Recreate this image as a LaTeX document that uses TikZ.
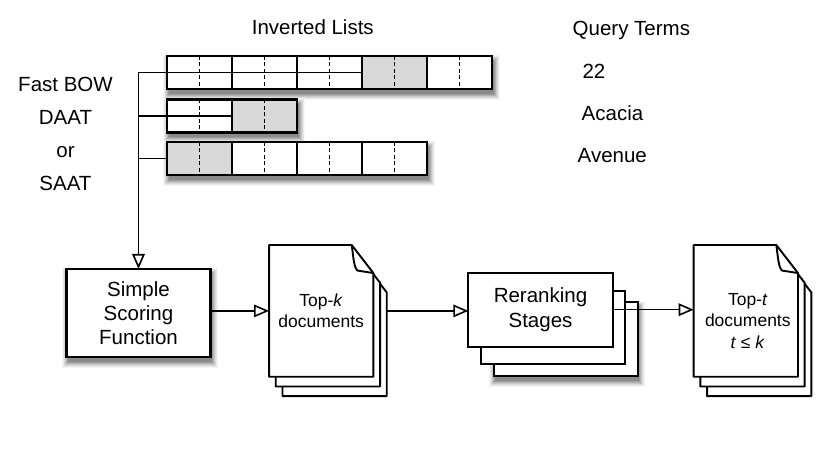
\documentclass[tikz,border=0pt]{standalone}
\usepackage{fontspec}
\setmainfont{Liberation Sans}
\usetikzlibrary{arrows.meta}
\pgfdeclarelayer{bg}
\pgfsetlayers{bg,main}
\definecolor{shA}{gray}{0.96}
\definecolor{shB}{gray}{0.91}
\definecolor{shC}{gray}{0.85}
\definecolor{shD}{gray}{0.78}
\definecolor{shE}{gray}{0.70}
\definecolor{shF}{gray}{0.62}
\definecolor{shG}{gray}{0.54}
\newcommand\boxshadow[4]{%
  \fill[shA] (#1-4.5,#2-1) rectangle (#3+7.5,#4+11);
  \fill[shB] (#1-3.5,#2) rectangle (#3+6.5,#4+10);
  \fill[shC] (#1-2.5,#2+1) rectangle (#3+5.5,#4+9);
  \fill[shD] (#1-1.5,#2+2) rectangle (#3+4.5,#4+8);
  \fill[shE] (#1-0.5,#2+3) rectangle (#3+3.5,#4+7);
  \fill[shF] (#1+0.5,#2+4) rectangle (#3+2.5,#4+6);
  \fill[shG] (#1+1.5,#2+5) rectangle (#3+1.5,#4+5);
}
\begin{document}
\begin{tikzpicture}[x=1pt,y=-1pt,
  every node/.style={inner sep=0pt, outer sep=0pt},
  lbl/.style={font=\fontsize{20.5}{24.5}\selectfont},
  doctxt/.style={font=\fontsize{17.5}{21.5}\selectfont, align=center},
  rowbox/.style={fill=white, minimum width=#1, minimum height=33pt, anchor=north west},
  blk/.style={draw, line width=2.1pt},
  grayblk/.style={blk, fill=black!15},
  dashln/.style={line width=1.8pt, dash pattern=on 4pt off 2.5pt},
  midln/.style={line width=1.7pt},
  conn/.style={line width=1.6pt},
  arr/.style={conn, -{Triangle[length=15pt, width=12.5pt, fill=white]}},
  box/.style={draw, line width=2.1pt, fill=white, align=center,
              font=\fontsize{20.5}{24.3}\selectfont},
  pg/.style={minimum width=104.3pt, minimum height=131.7pt},
  pageln/.style={draw, fill=white, line width=1.9pt, line join=round}
]
\path[use as bounding box] (0,0) rectangle (830,462);

% ---------- headings ----------
\node[lbl, anchor=base] (il) at (312.8,35) {Inverted Lists};
\node[lbl, anchor=base west] (qt) at (572.7,36) {Query Terms};
\node[lbl, anchor=base west] (q1) at (582.5,78.3) {22};
\node[lbl, anchor=base west] (q2) at (581.7,121) {Acacia};
\node[lbl, anchor=base west] (q3) at (577.7,162.7) {Avenue};
\node[font=\fontsize{20.5}{33}\selectfont, align=center] (alg) at (65.5,133.5) {Fast BOW\\DAAT\\or\\SAAT};

% ---------- inverted lists ----------
\node[rowbox=325pt] (r1) at (167,56) {};
\node[rowbox=130pt] (r2) at (167,99.5) {};
\node[rowbox=260pt] (r3) at (167,142) {};

\foreach \i in {0,...,4} \draw[blk] (167+65*\i,56) rectangle ++(65,33);
\draw[grayblk] (362,56) rectangle ++(65,33);
\foreach \i in {0,...,4} \draw[dashln] (199.5+65*\i,56) -- ++(0,33);

\foreach \i in {0,1} \draw[blk] (167+65*\i,99.5) rectangle ++(65,33);
\draw[grayblk] (232,99.5) rectangle ++(65,33);
\foreach \i in {0,1} \draw[dashln] (199.5+65*\i,99.5) -- ++(0,33);

\foreach \i in {0,...,3} \draw[blk] (167+65*\i,142) rectangle ++(65,33);
\draw[grayblk] (167,142) rectangle ++(65,33);
\foreach \i in {0,...,3} \draw[dashln] (199.5+65*\i,142) -- ++(0,33);

\draw[midln] (r1.west) -- (362,72.5);
\draw[midln] (r2.west) -- (232,116);

% ---------- simple scoring ----------
\node[box, minimum width=144pt, minimum height=88pt] (ssf) at (138.5,313) {Simple\\Scoring\\Function};

\coordinate (jt) at (ssf.north |- r1.west);
\draw[conn] (jt) -- (r1.west);
\draw[conn] (ssf.north |- r2.west) -- (r2.west);
\draw[conn] (ssf.north |- r3.west) -- (r3.west);
\draw[arr] (jt) -- (ssf.north);

% ---------- documents ----------
\node[pg] (dk1) at (321.2,310.9) {};
\node[pg] (dk2) at (327.9,320.6) {};
\node[pg] (dk3) at (334.6,330.3) {};
\node[pg] (dt1) at (745.8,310.9) {};
\node[pg] (dt2) at (752.5,320.6) {};
\node[pg] (dt3) at (759.2,330.3) {};

\foreach \p in {dk3,dk2,dk1,dt3,dt2,dt1}
  \draw[pageln] (\p.north west) -- ([xshift=-21.6pt]\p.north east)
     -- ([yshift=-28pt]\p.north east) -- (\p.south east) -- (\p.south west) -- cycle;
\foreach \p in {dk1,dt1}
  \draw[pageln, fill=none] ([xshift=-21.6pt]\p.north east)
     .. controls ([xshift=-20pt,yshift=-12pt]\p.north east) and ([xshift=-19.5pt,yshift=-22pt]\p.north east)
     .. ([xshift=-16pt,yshift=-25.5pt]\p.north east) -- ([yshift=-28pt]\p.north east);

\node[doctxt] (tk) at (dk1.center) {Top-\textit{k}\\documents};
\node[doctxt] (tt) at ([xshift=2pt,yshift=-10pt]dt1.center) {Top-\textit{t}\\documents\\\textit{t} ≤ \textit{k}};

% ---------- reranking ----------
\node[box, minimum width=144pt, minimum height=73.6pt] (rr3) at (565.7,339.2) {};
\node[box, minimum width=144pt, minimum height=73.6pt] (rr2) at (553,327.5) {};
\node[box, minimum width=144.4pt, minimum height=74pt] (rr1) at (540.5,309.7) {Reranking\\Stages};

% ---------- shadows (behind everything) ----------
\begin{pgfonlayer}{bg}
\boxshadow{167}{56}{492}{89}
\boxshadow{167}{99.5}{297}{132.5}
\boxshadow{167}{142}{427}{175}
\boxshadow{66.5}{269}{210.5}{357}
\boxshadow{493.7}{302.4}{637.7}{376}
\end{pgfonlayer}

% ---------- arrows ----------
\draw[arr] (ssf.east |- dk1.west) -- (dk1.west);
\draw[arr] (dk1.east -| dk3.east) -- (dk1.east -| rr1.west);
\draw[arr] (rr1.east) -- (rr1.east -| dt1.west);
\end{tikzpicture}
\end{document}
